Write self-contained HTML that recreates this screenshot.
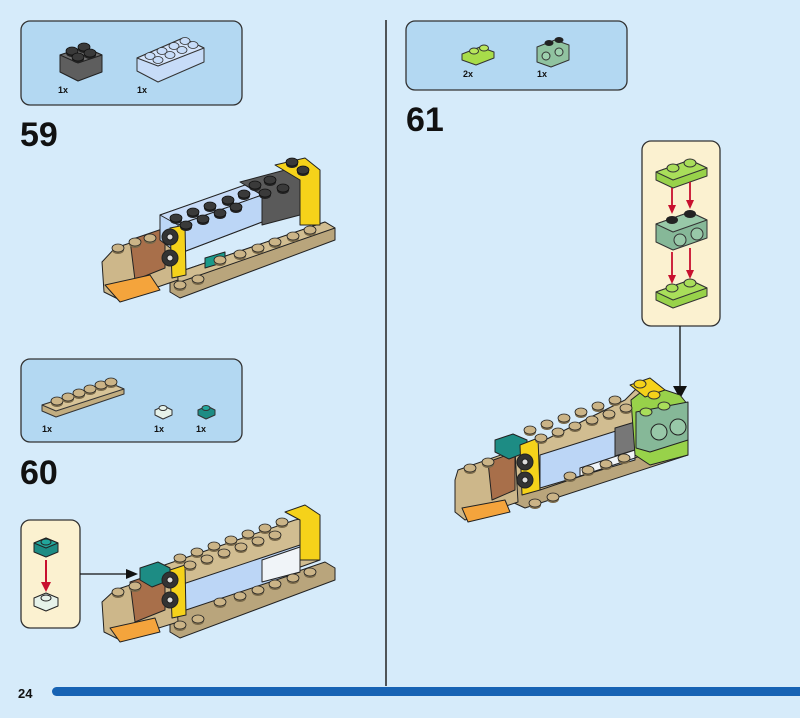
<!DOCTYPE html>
<html><head><meta charset="utf-8"><style>
html,body{margin:0;padding:0;background:#d6ebfa;}
svg{display:block}
text{font-family:"Liberation Sans",sans-serif;fill:#111}
</style></head><body>
<svg width="800" height="718" viewBox="0 0 800 718" xmlns="http://www.w3.org/2000/svg" stroke-linejoin="round">
<rect width="800" height="718" fill="#d6ebfa"/>
<defs>
<g id="stud"><ellipse cx="0" cy="0" rx="6" ry="4" fill="#222"/><ellipse cx="0" cy="-2" rx="6" ry="4" fill="#3a3a3a" stroke="#111" stroke-width="0.8"/></g>
<g id="tstud"><ellipse cx="0" cy="0" rx="6" ry="4" fill="#7a6a4a"/><ellipse cx="0" cy="-2" rx="6" ry="4" fill="#cbb487" stroke="#222" stroke-width="0.8"/></g>
</defs>
<!-- divider -->
<line x1="386" y1="20" x2="386" y2="686" stroke="#222" stroke-width="1.5"/>
<!-- bottom bar -->
<text x="18" y="698" font-size="13" font-weight="bold">24</text>
<rect x="52" y="687" width="760" height="9" rx="4.5" fill="#1763b4"/>

<!-- Parts box 59 -->
<rect x="21" y="21" width="221" height="84" rx="9" fill="#b3d8f2" stroke="#333" stroke-width="1.3"/>
<polygon points="60,55 84,47 102,55 102,72 78,81 60,72" fill="#5e5e5e" stroke="#222"/>
<polygon points="60,55 84,47 102,55 78,63" fill="#6e6e6e" stroke="#222"/>
<use href="#stud" x="72" y="53"/><use href="#stud" x="84" y="49"/><use href="#stud" x="78" y="59"/><use href="#stud" x="90" y="55"/>
<polygon points="137,58 183,38 204,48 204,62 158,82 137,71" fill="#c7dcf8" stroke="#333"/>
<polygon points="137,58 183,38 204,48 158,66" fill="#d4e4fb" stroke="#333"/>
<g fill="#c7dcf8" stroke="#333" stroke-width="0.8">
<ellipse cx="150" cy="56" rx="5" ry="3.5"/><ellipse cx="162" cy="51" rx="5" ry="3.5"/><ellipse cx="174" cy="46" rx="5" ry="3.5"/><ellipse cx="185" cy="41" rx="5" ry="3.5"/>
<ellipse cx="158" cy="60" rx="5" ry="3.5"/><ellipse cx="170" cy="55" rx="5" ry="3.5"/><ellipse cx="182" cy="50" rx="5" ry="3.5"/><ellipse cx="193" cy="45" rx="5" ry="3.5"/></g>
<text x="58" y="93" font-size="9" font-weight="bold">1x</text>
<text x="137" y="93" font-size="9" font-weight="bold">1x</text>
<text x="20" y="146" font-size="34" font-weight="bold">59</text>

<!-- Model 59 -->
<g stroke="#222" stroke-width="1">
<polygon points="170,275 325,222 335,228 335,240 180,298 170,292" fill="#b9a57c"/>
<polygon points="170,275 325,222 335,228 180,282" fill="#d1bd91"/>
<polygon points="115,248 175,228 178,280 120,300 104,292 102,262" fill="#cdb78a"/>
<polygon points="130,240 165,228 165,268 135,280" fill="#a86f4a"/>
<polygon points="105,285 150,275 160,290 120,302" fill="#f4a43c"/>
<polygon points="160,215 262,180 262,222 178,254 160,240" fill="#bcd6f6"/>
<polygon points="160,215 245,185 262,195 178,225" fill="#c8dcf8"/>
<polygon points="240,182 285,170 300,178 300,215 262,225 262,195" fill="#5a5a5a"/>
<polygon points="275,165 305,158 320,170 320,225 300,225 300,180" fill="#f5d21a"/>
<polygon points="178,225 262,195 262,222 178,254" fill="#bcd6f6"/>
<polygon points="170,228 185,225 186,275 172,278" fill="#f5d21a"/>
<polygon points="205,258 225,252 225,262 205,268" fill="#1a9a8a"/>
<circle cx="170" cy="237" r="8" fill="#333"/><circle cx="170" cy="237" r="3" fill="#ddd"/>
<circle cx="170" cy="258" r="8" fill="#333"/><circle cx="170" cy="258" r="3" fill="#ddd"/>
</g>
<g>
<use href="#stud" x="176" y="220"/><use href="#stud" x="193" y="214"/><use href="#stud" x="210" y="208"/><use href="#stud" x="228" y="202"/><use href="#stud" x="244" y="196"/>
<use href="#stud" x="186" y="227"/><use href="#stud" x="203" y="221"/><use href="#stud" x="220" y="215"/><use href="#stud" x="236" y="209"/>
<use href="#stud" x="255" y="187"/><use href="#stud" x="270" y="182"/><use href="#stud" x="265" y="195"/><use href="#stud" x="283" y="190"/>
<use href="#stud" x="292" y="164"/><use href="#stud" x="303" y="172"/>
<use href="#tstud" x="118" y="250"/><use href="#tstud" x="135" y="244"/><use href="#tstud" x="150" y="240"/>
<use href="#tstud" x="220" y="262"/><use href="#tstud" x="240" y="256"/><use href="#tstud" x="258" y="250"/><use href="#tstud" x="275" y="244"/><use href="#tstud" x="293" y="238"/><use href="#tstud" x="310" y="232"/>
<use href="#tstud" x="180" y="287"/><use href="#tstud" x="198" y="281"/>
</g>

<!-- Parts box 60 -->
<rect x="21" y="359" width="221" height="83" rx="9" fill="#b3d8f2" stroke="#333" stroke-width="1.3"/>
<polygon points="42,405 110,383 124,389 124,394 56,417 42,411" fill="#c2ad80" stroke="#333"/>
<polygon points="42,405 110,383 124,389 56,411" fill="#d7c397" stroke="#333"/>
<g><use href="#tstud" x="57" y="403"/><use href="#tstud" x="68" y="399"/><use href="#tstud" x="79" y="395"/><use href="#tstud" x="90" y="391"/><use href="#tstud" x="101" y="387"/><use href="#tstud" x="111" y="384"/></g>
<polygon points="155,410 164,406 172,410 172,415 163,419 155,415" fill="#e6f2ea" stroke="#333"/>
<ellipse cx="163" cy="408" rx="4" ry="2.5" fill="#e6f2ea" stroke="#333"/>
<polygon points="198,410 207,406 215,410 215,415 206,419 198,415" fill="#1d8c84" stroke="#333"/>
<ellipse cx="206" cy="408" rx="4" ry="2.5" fill="#22a69b" stroke="#333"/>
<text x="42" y="432" font-size="9" font-weight="bold">1x</text>
<text x="154" y="432" font-size="9" font-weight="bold">1x</text>
<text x="196" y="432" font-size="9" font-weight="bold">1x</text>
<text x="20" y="484" font-size="34" font-weight="bold">60</text>

<!-- callout 60 -->
<rect x="21" y="520" width="59" height="108" rx="9" fill="#fbf1d0" stroke="#333" stroke-width="1.3"/>
<polygon points="34,543 46,538 58,543 58,552 46,557 34,552" fill="#1d8c84" stroke="#222"/>
<polygon points="34,543 46,538 58,543 46,548" fill="#22a69b" stroke="#222"/>
<ellipse cx="46" cy="542" rx="5" ry="3" fill="#22a69b" stroke="#222"/>
<line x1="46" y1="560" x2="46" y2="585" stroke="#c8102e" stroke-width="2"/>
<polygon points="41,582 51,582 46,592" fill="#c8102e"/>
<polygon points="34,598 46,593 58,598 58,606 46,611 34,606" fill="#e6f2ea" stroke="#222"/>
<ellipse cx="46" cy="598" rx="5" ry="3" fill="#e6f2ea" stroke="#222"/>
<line x1="80" y1="574" x2="128" y2="574" stroke="#111" stroke-width="1.3"/>
<polygon points="126,569 138,574 126,579" fill="#111"/>

<!-- Model 60 -->
<g stroke="#222" stroke-width="1">
<polygon points="170,615 325,562 335,568 335,580 180,638 170,632" fill="#b9a57c"/>
<polygon points="150,570 295,520 318,515 320,560 180,610 150,600" fill="#d1bd91"/>
<polygon points="180,585 300,545 300,572 180,612" fill="#bcd6f6"/>
<polygon points="262,560 300,547 300,572 262,582" fill="#f0f4f8"/>
<polygon points="285,512 305,505 320,515 320,560 300,560 300,520" fill="#f5d21a"/>
<polygon points="115,590 175,570 178,622 120,640 104,632 102,602" fill="#cdb78a"/>
<polygon points="130,582 165,570 165,610 135,622" fill="#a86f4a"/>
<polygon points="110,628 155,618 160,632 120,642" fill="#f4a43c"/>
<polygon points="140,568 158,562 170,568 170,580 152,587 140,580" fill="#1d8c84"/>
<polygon points="170,570 185,565 186,615 172,618" fill="#f5d21a"/>
<circle cx="170" cy="580" r="8" fill="#333"/><circle cx="170" cy="580" r="3" fill="#ddd"/>
<circle cx="170" cy="600" r="8" fill="#333"/><circle cx="170" cy="600" r="3" fill="#ddd"/>
</g>
<g>
<use href="#tstud" x="180" y="560"/><use href="#tstud" x="197" y="554"/><use href="#tstud" x="214" y="548"/><use href="#tstud" x="231" y="542"/><use href="#tstud" x="248" y="536"/><use href="#tstud" x="265" y="530"/><use href="#tstud" x="282" y="524"/>
<use href="#tstud" x="190" y="567"/><use href="#tstud" x="207" y="561"/><use href="#tstud" x="224" y="555"/><use href="#tstud" x="241" y="549"/><use href="#tstud" x="258" y="543"/><use href="#tstud" x="275" y="537"/>
<use href="#tstud" x="220" y="604"/><use href="#tstud" x="240" y="598"/><use href="#tstud" x="258" y="592"/><use href="#tstud" x="275" y="586"/><use href="#tstud" x="293" y="580"/><use href="#tstud" x="310" y="574"/>
<use href="#tstud" x="118" y="594"/><use href="#tstud" x="135" y="588"/><use href="#tstud" x="180" y="627"/><use href="#tstud" x="198" y="621"/>
</g>

<!-- Parts box 61 -->
<rect x="406" y="21" width="221" height="69" rx="9" fill="#b3d8f2" stroke="#333" stroke-width="1.3"/>
<polygon points="462,54 480,47 494,52 494,58 476,65 462,60" fill="#a8dc4a" stroke="#333"/>
<ellipse cx="474" cy="51" rx="4.5" ry="3" fill="#b9e65c" stroke="#333"/><ellipse cx="484" cy="48" rx="4.5" ry="3" fill="#b9e65c" stroke="#333"/>
<polygon points="537,47 555,40 569,45 569,60 551,67 537,62" fill="#90c3a0" stroke="#333"/>
<circle cx="546" cy="56" r="4" fill="#9ed1ae" stroke="#333"/><circle cx="559" cy="52" r="4" fill="#9ed1ae" stroke="#333"/>
<ellipse cx="549" cy="43" rx="4.5" ry="3" fill="#222"/><ellipse cx="559" cy="40" rx="4.5" ry="3" fill="#222"/>
<text x="463" y="77" font-size="9" font-weight="bold">2x</text>
<text x="537" y="77" font-size="9" font-weight="bold">1x</text>
<text x="406" y="131" font-size="34" font-weight="bold">61</text>

<!-- callout 61 -->
<rect x="642" y="141" width="78" height="185" rx="9" fill="#fbf1d0" stroke="#333" stroke-width="1.3"/>
<g stroke="#333" stroke-width="1">
<polygon points="656,172 690,160 707,168 707,176 673,188 656,180" fill="#98d24a"/>
<polygon points="656,172 690,160 707,168 673,180" fill="#a9de5a"/>
<polygon points="656,224 690,212 707,220 707,238 673,250 656,242" fill="#86b898"/>
<polygon points="656,224 690,212 707,220 673,232" fill="#98c8a8"/>
<circle cx="680" cy="240" r="6" fill="#98c8a8"/><circle cx="697" cy="234" r="6" fill="#98c8a8"/>
<polygon points="656,292 690,280 707,288 707,296 673,308 656,300" fill="#98d24a"/>
<polygon points="656,292 690,280 707,288 673,300" fill="#a9de5a"/>
</g>
<ellipse cx="673" cy="168" rx="6" ry="4" fill="#a9de5a" stroke="#333"/><ellipse cx="690" cy="163" rx="6" ry="4" fill="#a9de5a" stroke="#333"/>
<ellipse cx="672" cy="220" rx="6" ry="4" fill="#222"/><ellipse cx="690" cy="214" rx="6" ry="4" fill="#222"/>
<ellipse cx="672" cy="288" rx="6" ry="4" fill="#a9de5a" stroke="#333"/><ellipse cx="690" cy="283" rx="6" ry="4" fill="#a9de5a" stroke="#333"/>
<g stroke="#c8102e" stroke-width="1.8" fill="#c8102e">
<line x1="672" y1="188" x2="672" y2="208"/><polygon points="668,205 676,205 672,214" stroke="none"/>
<line x1="690" y1="182" x2="690" y2="203"/><polygon points="686,200 694,200 690,209" stroke="none"/>
<line x1="672" y1="252" x2="672" y2="278"/><polygon points="668,275 676,275 672,284" stroke="none"/>
<line x1="690" y1="248" x2="690" y2="273"/><polygon points="686,270 694,270 690,279" stroke="none"/>
</g>
<line x1="680" y1="326" x2="680" y2="390" stroke="#111" stroke-width="1.3"/>
<polygon points="673,386 687,386 680,399" fill="#111"/>

<!-- Model 61 -->
<g stroke="#222" stroke-width="1">
<polygon points="512,485 675,435 688,440 688,455 525,508 512,502" fill="#b9a57c"/>
<polygon points="515,455 625,400 640,385 688,405 688,440 540,490 515,480" fill="#d1bd91"/>
<polygon points="540,455 635,425 635,460 540,488" fill="#bcd6f6"/>
<polygon points="615,428 635,422 635,450 615,456" fill="#777"/>
<polygon points="580,468 635,450 635,458 580,476" fill="#f0f4f8"/>
<polygon points="631,400 650,385 680,395 688,405 688,455 650,465 635,455" fill="#98d24a"/>
<polygon points="636,412 688,402 688,440 650,452 636,448" fill="#86b898"/>
<circle cx="659" cy="432" r="8" fill="#98c8a8"/><circle cx="678" cy="427" r="8" fill="#98c8a8"/>
<polygon points="630,385 650,378 665,390 645,397" fill="#f5d21a"/>
<polygon points="458,470 515,450 518,502 465,520 455,512 455,480" fill="#cdb78a"/>
<polygon points="488,462 515,452 515,490 492,500" fill="#a86f4a"/>
<polygon points="462,508 505,500 510,512 468,522" fill="#f4a43c"/>
<polygon points="495,440 513,434 527,440 527,452 509,459 495,452" fill="#1d8c84"/>
<polygon points="520,445 538,438 540,490 522,495" fill="#f5d21a"/>
<circle cx="525" cy="462" r="8" fill="#333"/><circle cx="525" cy="462" r="3" fill="#ddd"/>
<circle cx="525" cy="480" r="8" fill="#333"/><circle cx="525" cy="480" r="3" fill="#ddd"/>
</g>
<g>
<use href="#tstud" x="530" y="432"/><use href="#tstud" x="547" y="426"/><use href="#tstud" x="564" y="420"/><use href="#tstud" x="581" y="414"/><use href="#tstud" x="598" y="408"/><use href="#tstud" x="615" y="402"/>
<use href="#tstud" x="541" y="440"/><use href="#tstud" x="558" y="434"/><use href="#tstud" x="575" y="428"/><use href="#tstud" x="592" y="422"/><use href="#tstud" x="609" y="416"/><use href="#tstud" x="626" y="410"/>
<use href="#tstud" x="570" y="478"/><use href="#tstud" x="588" y="472"/><use href="#tstud" x="606" y="466"/><use href="#tstud" x="624" y="460"/>
<use href="#tstud" x="470" y="470"/><use href="#tstud" x="488" y="464"/><use href="#tstud" x="535" y="505"/><use href="#tstud" x="553" y="499"/>
</g>
<ellipse cx="646" cy="412" rx="6" ry="4" fill="#a9de5a" stroke="#333"/><ellipse cx="664" cy="406" rx="6" ry="4" fill="#a9de5a" stroke="#333"/>
<ellipse cx="640" cy="384" rx="6" ry="4" fill="#f5d21a" stroke="#333"/><ellipse cx="654" cy="395" rx="6" ry="4" fill="#f5d21a" stroke="#333"/>
</svg>
</body></html>
